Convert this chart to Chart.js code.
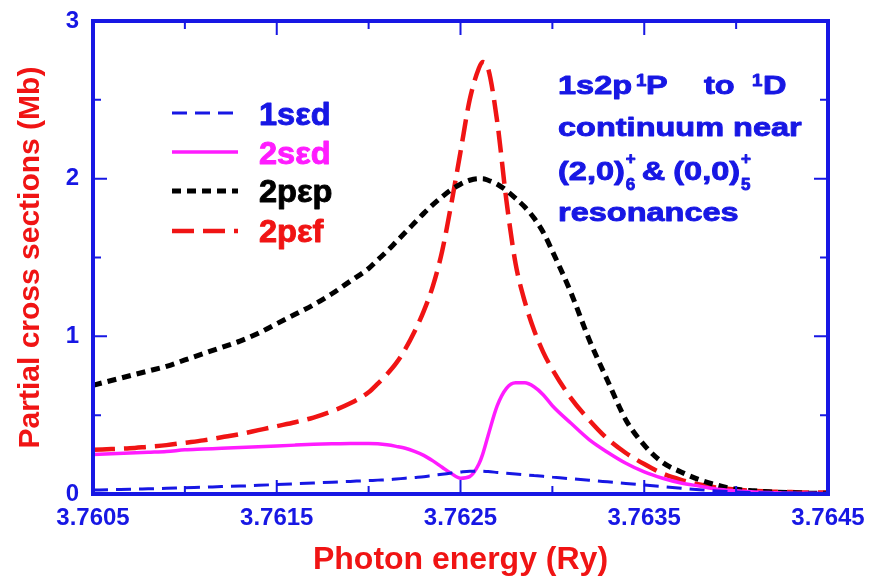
<!DOCTYPE html>
<html><head><meta charset="utf-8">
<script src="https://cdn.jsdelivr.net/npm/chart.js@4.4.0/dist/chart.umd.min.js"></script>
<style>html,body{margin:0;padding:0;background:#fff}canvas{display:block}</style>
</head><body>
<canvas id="c" width="870" height="585"></canvas>
<script>
// ---- data ----
const energies = [3.7605,3.7606,3.7607,3.7608,3.7609,3.7610,3.7611,3.7612,3.7613,3.7614,3.7615,3.7616,3.7617,3.7618,3.7619,3.7620,
  3.76205,3.7621,3.76215,3.7622,3.76225,3.7623,3.76235,3.7624,3.76245,3.7625,3.76255,3.7626,3.76262,3.76265,3.7627,3.76275,3.7628,3.76285,3.7629,3.76295,3.7630,
  3.7631,3.7632,3.7633,3.7634,3.7635,3.7636,3.7637,3.7638,3.7639,3.7640,3.7641,3.7642,3.7643,3.7644,3.7645];
const s1sed = [0.025,0.028,0.030,0.033,0.036,0.040,0.043,0.047,0.050,0.055,0.060,0.065,0.070,0.075,0.080,0.085,
  0.088,0.090,0.095,0.100,0.105,0.110,0.118,0.125,0.133,0.140,0.145,0.145,0.144,0.142,0.137,0.132,0.127,0.122,0.117,0.112,0.107,
  0.097,0.087,0.077,0.067,0.057,0.047,0.037,0.027,0.019,0.013,0.009,0.007,0.006,0.005,0.005];
const s2sed = [0.25,0.255,0.26,0.265,0.27,0.28,0.285,0.29,0.295,0.30,0.305,0.31,0.315,0.318,0.32,0.32,
  0.318,0.312,0.302,0.29,0.27,0.245,0.21,0.17,0.13,0.10,0.11,0.19,0.25,0.37,0.56,0.67,0.705,0.705,0.68,0.63,0.56,
  0.45,0.345,0.265,0.195,0.14,0.10,0.07,0.05,0.03,0.02,0.012,0.008,0.005,0.004,0.003];
const s2pep = [0.69,0.72,0.75,0.78,0.81,0.85,0.89,0.93,0.97,1.02,1.08,1.14,1.20,1.27,1.35,1.43,
  1.485,1.54,1.60,1.66,1.72,1.78,1.835,1.885,1.93,1.965,1.99,2.00,2.00,1.99,1.965,1.925,1.875,1.82,1.75,1.66,1.54,
  1.28,0.98,0.72,0.47,0.31,0.20,0.14,0.09,0.055,0.03,0.02,0.012,0.008,0.005,0.004];
const s2pef = [0.28,0.285,0.29,0.30,0.31,0.325,0.34,0.36,0.38,0.405,0.43,0.455,0.485,0.525,0.575,0.645,
  0.70,0.76,0.83,0.92,1.03,1.16,1.32,1.54,1.84,2.17,2.50,2.70,2.74,2.70,2.36,1.86,1.46,1.22,1.04,0.90,0.79,
  0.61,0.47,0.35,0.26,0.19,0.13,0.09,0.06,0.04,0.028,0.02,0.015,0.012,0.010,0.010];
const seriesNames = ['1s\u03b5d','2s\u03b5d','2p\u03b5p','2p\u03b5f'];
const xTickValues = [3.7605,3.7615,3.7625,3.7635,3.7645];
const xTickLabels = ['3.7605','3.7615','3.7625','3.7635','3.7645'];
const xMinorTicks = [3.7610,3.7620,3.7630,3.7640];
const yTickValues = [0,1,2,3];
const yTickLabels = ['0','1','2','3'];
const yMinorTicks = [0.5,1.5,2.5];

// ---- styles ----
const BLUE = '#1717e4', MAG = '#ff1cff', BLK = '#000000', RED = '#f01414';
const FAM = '"Liberation Sans", Arial, Helvetica, sans-serif';
const styles = [
  {color: BLUE, dash: [15, 8], width: 3},
  {color: MAG, dash: [], width: 3.5},
  {color: BLK, dash: [9, 6], width: 5},
  {color: RED, dash: [22, 9], width: 4.5}
];
const seriesData = [s1sed, s2sed, s2pep, s2pef];

const datasets = seriesData.map((vals, i) => ({
  label: seriesNames[i],
  data: energies.map((e, j) => ({x: e, y: vals[j]})),
  borderColor: styles[i].color,
  borderDash: styles[i].dash,
  borderWidth: styles[i].width,
  pointRadius: 0,
  fill: false,
  cubicInterpolationMode: 'monotone',
  borderCapStyle: 'butt'
}));

const framePlugin = {
  id: 'frame',
  afterDatasetsDraw(chart) {
    const {ctx, chartArea: a, scales: {x, y}} = chart;
    ctx.save();
    ctx.strokeStyle = BLUE;
    ctx.lineWidth = 2;
    ctx.setLineDash([]);
    ctx.beginPath();
    const xt = (vals, len) => vals.forEach(v => {
      const p = x.getPixelForValue(v);
      ctx.moveTo(p, a.bottom); ctx.lineTo(p, a.bottom - len);
      ctx.moveTo(p, a.top); ctx.lineTo(p, a.top + len);
    });
    const yt = (vals, len) => vals.forEach(v => {
      const p = y.getPixelForValue(v);
      ctx.moveTo(a.left, p); ctx.lineTo(a.left + len, p);
      ctx.moveTo(a.right, p); ctx.lineTo(a.right - len, p);
    });
    xt(xTickValues, 14); xt(xMinorTicks, 8);
    yt(yTickValues, 14); yt(yMinorTicks, 8);
    ctx.stroke();
    ctx.lineWidth = 4;
    ctx.strokeRect(a.left, a.top, a.right - a.left, a.bottom - a.top);
    ctx.restore();
  }
};

// draws text with horizontal stretch; returns end x
function drawScaled(ctx, text, x, y, font, color, sx) {
  ctx.save();
  ctx.font = font; ctx.fillStyle = color; ctx.strokeStyle = color;
  ctx.lineWidth = 0.9; ctx.lineJoin = 'round';
  ctx.textAlign = 'left'; ctx.textBaseline = 'alphabetic';
  const w = ctx.measureText(text).width * sx;
  ctx.translate(x, y); ctx.scale(sx, 1);
  ctx.fillText(text, 0, 0);
  ctx.strokeText(text, 0, 0);
  ctx.restore();
  return x + w;
}

const notePlugin = {
  id: 'notes',
  afterDraw(chart) {
    const ctx = chart.ctx;
    // legend
    const legRows = [113, 152, 191, 231];
    const legBase = [125, 164, 202, 242];
    styles.forEach((s, i) => {
      ctx.save();
      ctx.strokeStyle = s.color; ctx.lineWidth = s.width; ctx.setLineDash(s.dash);
      ctx.beginPath(); ctx.moveTo(172, legRows[i]); ctx.lineTo(238, legRows[i]); ctx.stroke();
      ctx.restore();
      drawScaled(ctx, seriesNames[i], 259, legBase[i], 'bold 31px ' + FAM, s.color, 1.05);
    });
    // annotation
    const F = 'bold 26px ' + FAM, S = 'bold 17px ' + FAM, k = 1.25;
    let e = drawScaled(ctx, '1s2p', 558, 94, F, BLUE, k);
    drawScaled(ctx, '1', e + 4, 86, S, BLUE, 1.1);
    drawScaled(ctx, 'P', e + 14, 94, F, BLUE, k);
    drawScaled(ctx, 'to', 704, 94, F, BLUE, k);
    drawScaled(ctx, '1', 752, 86, S, BLUE, 1.1);
    drawScaled(ctx, 'D', 763, 94, F, BLUE, k);
    drawScaled(ctx, 'continuum near', 558, 136, F, BLUE, k);
    e = drawScaled(ctx, '(2,0)', 558, 180, F, BLUE, k);
    drawScaled(ctx, '+', e + 1, 164, S, BLUE, 1.0);
    drawScaled(ctx, '6', e + 1, 190, S, BLUE, 1.0);
    e = drawScaled(ctx, '&', e + 17, 180, F, BLUE, k);
    e = drawScaled(ctx, '(0,0)', e + 8, 180, F, BLUE, k);
    drawScaled(ctx, '+', e + 1, 164, S, BLUE, 1.0);
    drawScaled(ctx, '5', e + 1, 190, S, BLUE, 1.0);
    drawScaled(ctx, 'resonances', 558, 221, F, BLUE, k);
  }
};

new Chart(document.getElementById('c'), {
  type: 'line',
  data: {datasets},
  options: {
    responsive: false,
    animation: false,
    devicePixelRatio: 1,
    layout: {padding: {left: 0, top: 21, right: 42, bottom: 0}},
    plugins: {legend: {display: false}, tooltip: {enabled: false}},
    scales: {
      x: {
        type: 'linear', min: 3.7605, max: 3.7645,
        grid: {display: false, drawTicks: false},
        border: {display: false},
        afterBuildTicks: s => { s.ticks = xTickValues.map(v => ({value: v})); },
        afterFit: s => { s.height = 91; s.paddingLeft = 0; s.paddingRight = 0; },
        ticks: {
          autoSkip: false, maxRotation: 0, padding: 10, color: BLUE,
          font: {family: FAM, size: 24, weight: 'bold'},
          callback: (v, i) => xTickLabels[i]
        },
        title: {
          display: true, text: 'Photon energy (Ry)', color: RED,
          font: {family: FAM, size: 32, weight: 'bold'},
          padding: {top: 0, bottom: 6}
        }
      },
      y: {
        type: 'linear', min: 0, max: 3,
        grid: {display: false, drawTicks: false},
        border: {display: false},
        afterBuildTicks: s => { s.ticks = yTickValues.map(v => ({value: v})); },
        afterFit: s => { s.width = 93; s.paddingTop = 0; s.paddingBottom = 0; },
        ticks: {
          padding: 14, color: BLUE,
          font: {family: FAM, size: 24, weight: 'bold'},
          callback: (v, i) => yTickLabels[i]
        },
        title: {
          display: true, text: 'Partial cross sections (Mb)', color: RED,
          font: {family: FAM, size: 30, weight: 'bold'},
          padding: {top: 13, bottom: 0}
        }
      }
    }
  },
  plugins: [framePlugin, notePlugin]
});
</script>
</body></html>
